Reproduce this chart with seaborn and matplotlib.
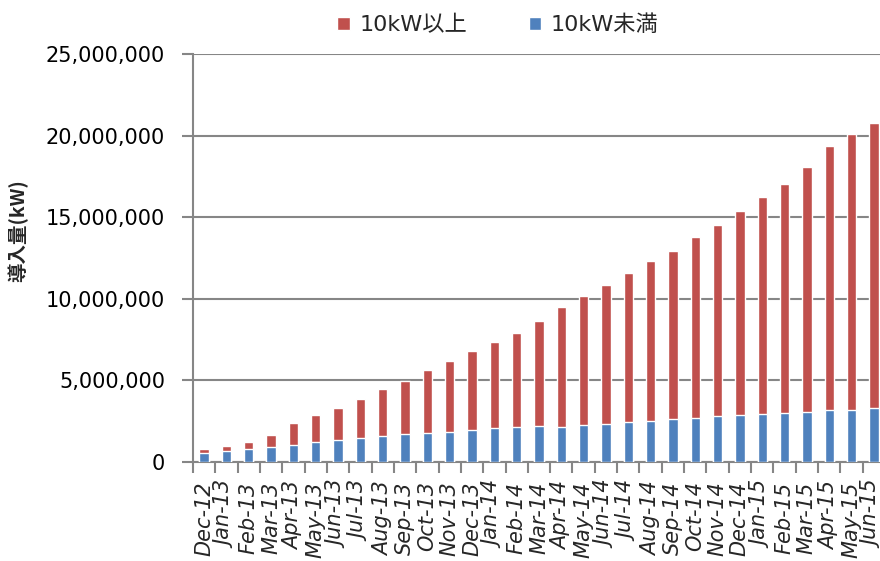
import numpy as np
import pandas as pd
import matplotlib
matplotlib.use("Agg")
import matplotlib.pyplot as plt
import seaborn as sns
from matplotlib.ticker import FuncFormatter, FixedLocator

# Monthly cumulative installed PV capacity (kW)
months = ["Dec-12", "Jan-13", "Feb-13", "Mar-13", "Apr-13", "May-13", "Jun-13",
          "Jul-13", "Aug-13", "Sep-13", "Oct-13", "Nov-13", "Dec-13", "Jan-14",
          "Feb-14", "Mar-14", "Apr-14", "May-14", "Jun-14", "Jul-14", "Aug-14",
          "Sep-14", "Oct-14", "Nov-14", "Dec-14", "Jan-15", "Feb-15", "Mar-15",
          "Apr-15", "May-15", "Jun-15"]

# under 10 kW (residential)
small_kw = [580000, 670000, 820000, 940000, 1070000, 1230000, 1370000,
            1500000, 1620000, 1740000, 1790000, 1840000, 1950000, 2070000,
            2130000, 2190000, 2150000, 2250000, 2330000, 2440000, 2500000,
            2620000, 2720000, 2790000, 2860000, 2940000, 2990000, 3090000,
            3170000, 3210000, 3310000]

# 10 kW and above (non-residential)
large_kw = [200000, 330000, 410000, 700000, 1320000, 1650000, 1960000,
            2380000, 2830000, 3250000, 3830000, 4340000, 4850000, 5280000,
            5750000, 6470000, 7370000, 7900000, 8520000, 9150000, 9790000,
            10310000, 11050000, 11750000, 12520000, 13300000, 14070000, 15010000,
            16220000, 16890000, 17450000]

y_ticks = [0, 5000000, 10000000, 15000000, 20000000, 25000000]

df = pd.DataFrame({"month": months, "small": small_kw, "large": large_kw})
df["total"] = df["small"] + df["large"]

RED = "#C0504D"
BLUE = "#4F81BD"
GRID = "#868686"
JP_FONTS = ["DejaVu Sans", "Noto Sans CJK JP"]

sns.set_theme(style="white")
plt.rcParams["font.family"] = ["DejaVu Sans", "Noto Sans CJK JP"]

fig = plt.figure(figsize=(8.8, 5.61), dpi=100)
ax = fig.add_axes([193 / 880, 99 / 561, 692 / 880, 408 / 561])

# stacked bars: full height in red, lower share in blue on top of it
sns.barplot(data=df, x="month", y="total", color=RED, saturation=1,
            width=0.42, ax=ax, label="10kW以上", zorder=3)
sns.barplot(data=df, x="month", y="small", color=BLUE, saturation=1,
            width=0.42, ax=ax, label="10kW未満", zorder=3)
if ax.get_legend() is not None:
    ax.get_legend().remove()

ax.set_xlim(-0.5, len(months) - 0.5)
ax.set_ylim(0, 25000000)
ax.yaxis.set_major_locator(FixedLocator(y_ticks))
ax.yaxis.set_major_formatter(FuncFormatter(lambda v, p: f"{int(v):,}"))
ax.grid(axis="y", color=GRID, linewidth=1.5, zorder=0)
ax.set_axisbelow(True)

for side in ("top", "right"):
    ax.spines[side].set_visible(False)
for side in ("left", "bottom"):
    ax.spines[side].set_color(GRID)
    ax.spines[side].set_linewidth(1.5)

ax.tick_params(axis="y", which="major", length=8, width=1.5, color=GRID,
               pad=12, labelsize=15, labelcolor="black", left=True)
ax.set_xticks(range(len(months)))
ax.set_xticklabels(months, rotation=90, fontstyle="italic", fontsize=15,
                   va="top", ha="center")
ax.set_xticks(np.arange(-0.5, len(months), 1), minor=True)
ax.tick_params(axis="x", which="major", length=0, pad=14)
ax.tick_params(axis="x", which="minor", length=8, width=1.5, color=GRID,
               bottom=True)

ax.set_xlabel("")
ax.set_ylabel("")
fig.text(18 / 880, 1 - 231 / 561, "導入量(kW)", rotation=90, ha="center",
         va="center", fontsize=14, fontweight="bold",
         family=["Noto Sans CJK JP", "DejaVu Sans"])

handles, labels = ax.get_legend_handles_labels()
fig.legend(handles, labels, loc="center", bbox_to_anchor=(498 / 880, 1 - 25 / 561),
           ncol=2, frameon=False, handlelength=0.55, handleheight=0.55,
           handletextpad=0.45, columnspacing=2.75,
           prop={"family": JP_FONTS, "size": 16})

fig.savefig("out.png", dpi=100)
